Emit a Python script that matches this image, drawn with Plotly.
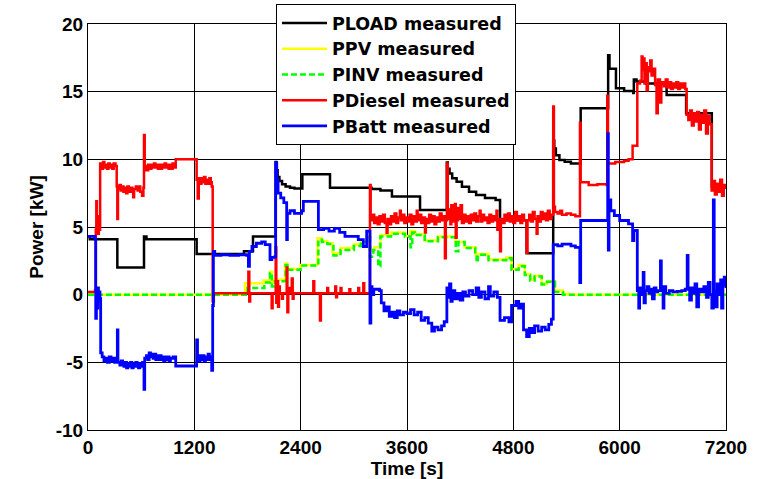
import plotly.graph_objects as go

# ---- measured power traces, (time [s], power [kW]) sample pairs ----
PLOAD = [(0, 4.3), (20, 4.1), (331, 2.0), (632, 4.3), (660, 4.1), (1226, 3.0), (1760, 3.2),
         (1862, 4.3), (2110, 4.3), (2118, 9.8), (2125, 9.2), (2140, 8.7), (2160, 8.4), (2190, 8.15),
         (2230, 8.0), (2280, 7.9), (2330, 7.85), (2419, 8.9), (2731, 7.9), (3200, 7.8), (3300, 7.7),
         (3430, 7.25), (3747, 6.26), (4050, 9.76), (4060, 9.3), (4080, 8.96), (4110, 8.6),
         (4160, 8.35), (4220, 7.98), (4300, 7.6), (4380, 7.37), (4480, 7.14), (4600, 7.0),
         (4650, 5.5), (4950, 3.06), (5250, 11.4), (5262, 10.8), (5280, 10.3), (5320, 9.95),
         (5380, 9.83), (5450, 9.7), (5560, 13.77), (5870, 17.7), (5885, 16.7), (5958, 15.25),
         (6050, 15.05), (6154, 14.9), (6160, 15.9), (6190, 15.75), (6300, 15.6), (6530, 14.76),
         (6750, 13.4), (7040, 8.0), (7200, 8.0)]

PPV = [(0, 0), (1772, 0.84), (1980, 1.05), (2054, 1.7), (2075, 0.9), (2100, 1.1), (2223, 2.3),
       (2250, 1.9), (2400, 2.2), (2590, 4.17), (2640, 3.95), (2700, 3.8), (2760, 3.06), (2850, 3.45),
       (3000, 3.7), (3080, 3.95), (3145, 4.3), (3182, 3.3), (3230, 3.5), (3300, 4.4), (3420, 4.6),
       (3577, 4.34), (3640, 4.7), (3690, 4.46), (3800, 4.0), (3950, 4.3), (4150, 3.9), (4250, 3.5),
       (4370, 3.0), (4520, 2.6), (4720, 2.75), (4780, 1.9), (4860, 2.2), (4930, 1.5), (4990, 1.1),
       (5040, 1.4), (5120, 0.8), (5180, 1.0), (5270, 0.3), (5360, 0.05), (5420, 0), (7200, 0)]

PINV = [(0, 0), (1800, 0.5), (1990, 0.9), (2054, 1.6), (2075, 0.6), (2110, 1.0), (2230, 2.2),
        (2250, 1.85), (2400, 2.15), (2600, 4.06), (2640, 3.9), (2700, 3.75), (2770, 2.9), (2850, 3.3),
        (3000, 3.6), (3080, 3.9), (3150, 4.2), (3182, 2.8), (3220, 3.3), (3276, 2.1), (3300, 4.3),
        (3420, 4.5), (3577, 4.3), (3640, 3.5), (3660, 4.6), (3690, 4.4), (3800, 3.95), (3950, 4.25),
        (4150, 3.2), (4180, 3.9), (4250, 3.45), (4370, 2.95), (4385, 2.4), (4400, 2.95), (4520, 2.55),
        (4720, 2.7), (4780, 1.85), (4860, 2.1), (4930, 1.45), (4990, 1.05), (5040, 1.35), (5120, 0.75),
        (5180, 0.95), (5270, 0.2), (5360, 0), (7200, 0)]

PDIESEL = [(0, 0.2), (79, 0.3), (88, 4.8), (94, 6.9), (100, 4.6), (108, 5.8), (115, 4.5), (122, 5.5),
           (130, 4.8), (137, 9.7), (150, 9.3), (170, 9.8), (185, 9.4), (200, 9.6), (215, 9.3),
           (230, 9.7), (245, 9.4), (260, 9.6), (275, 9.3), (290, 9.7), (310, 9.5), (324, 8.0),
           (331, 5.6), (338, 7.8), (355, 8.1), (370, 7.7), (385, 8.0), (400, 7.6), (415, 7.9),
           (430, 7.5), (445, 8.0), (460, 7.6), (480, 7.9), (500, 7.6), (510, 7.2), (520, 7.8),
           (540, 8.0), (560, 7.7), (575, 8.0), (590, 7.6), (610, 7.3), (625, 7.9), (632, 11.8),
           (640, 9.5), (660, 9.2), (680, 9.6), (700, 9.3), (715, 9.6), (730, 9.4), (745, 9.7),
           (760, 9.4), (775, 9.6), (790, 9.3), (805, 9.6), (820, 9.3), (835, 9.6), (850, 9.4),
           (865, 9.7), (880, 9.4), (895, 9.6), (910, 9.3), (925, 9.6), (940, 9.3), (955, 9.7),
           (970, 9.4), (990, 10.0), (1215, 10.0), (1226, 8.5), (1238, 7.1), (1250, 8.6), (1265, 8.2),
           (1280, 8.6), (1295, 8.3), (1310, 8.7), (1325, 8.2), (1340, 8.5), (1355, 8.2), (1370, 8.6),
           (1385, 8.3), (1396, 8.0), (1407, -0.5), (1420, 0.1), (1810, 1.7), (1820, -0.5), (1830, 0.1),
           (2073, -1.0), (2083, 0.1), (2118, 3.5), (2125, -0.6), (2135, 1.0), (2145, -0.9), (2155, 0.6),
           (2165, 0.1), (2190, -0.3), (2200, 0.1), (2242, 2.0), (2250, -1.3), (2260, 0.5), (2280, 0.1),
           (2300, 1.2), (2310, -0.3), (2320, 0.1), (2543, 1.0), (2553, 0.1), (2618, -1.9), (2628, 0.1),
           (2700, 0.5), (2710, 0.1), (2790, 0.6), (2800, -0.2), (2810, 0.1), (2850, 0.5), (2860, 0.1),
           (2950, 0.4), (2960, 0.1), (3050, 0.5), (3060, 0.1), (3107, 0.85), (3117, 0.1),
           (3182, 8.1), (3190, 5.5), (3210, 5.9), (3230, 5.3), (3250, 5.7), (3270, 5.2), (3290, 5.8),
           (3310, 5.4), (3330, 5.9), (3350, 5.3), (3370, 4.55), (3380, 5.6), (3400, 5.2), (3420, 5.8),
           (3440, 5.4), (3460, 6.0), (3480, 5.3), (3500, 5.7), (3520, 6.2), (3530, 5.5), (3550, 5.9),
           (3570, 5.3), (3590, 5.7), (3610, 5.4), (3630, 5.9), (3650, 5.2), (3670, 5.8), (3690, 5.4),
           (3710, 6.2), (3720, 5.5), (3740, 5.9), (3760, 5.3), (3780, 5.7), (3803, 4.6), (3813, 5.6),
           (3830, 5.3), (3850, 5.9), (3870, 5.4), (3890, 5.8), (3910, 5.2), (3930, 5.7), (3950, 5.4),
           (3970, 6.0), (3990, 5.5), (4010, 5.8), (4028, 2.7), (4038, 5.5), (4050, 9.7), (4060, 5.6),
           (4075, 6.3), (4090, 5.2), (4100, 6.6), (4115, 5.4), (4130, 6.1), (4141, 6.7), (4150, 4.2),
           (4160, 5.5), (4175, 6.4), (4190, 5.6), (4205, 6.6), (4220, 5.3), (4240, 5.9), (4260, 5.4),
           (4280, 5.8), (4300, 5.3), (4320, 5.9), (4340, 5.5), (4360, 6.0), (4380, 5.4), (4400, 5.8),
           (4420, 6.2), (4430, 5.4), (4450, 5.9), (4470, 5.5), (4490, 5.7), (4510, 5.3), (4530, 5.9),
           (4550, 5.4), (4570, 5.8), (4590, 5.5), (4610, 6.2), (4620, 4.8), (4635, 5.6), (4650, 3.2),
           (4660, 5.6), (4680, 5.3), (4700, 5.9), (4720, 5.5), (4740, 6.0), (4760, 5.4), (4780, 5.8),
           (4800, 5.3), (4820, 6.1), (4840, 5.5), (4860, 5.8), (4880, 5.3), (4900, 5.9), (4920, 5.5),
           (4950, 3.1), (4960, 5.5), (4980, 5.9), (5000, 5.4), (5020, 6.1), (5040, 5.6), (5063, 4.5),
           (5073, 5.8), (5090, 5.4), (5110, 6.1), (5130, 5.6), (5150, 6.0), (5170, 5.5), (5190, 6.2),
           (5210, 5.6), (5230, 5.9), (5250, 13.9), (5258, 6.5), (5270, 6.1), (5300, 6.0), (5330, 6.2),
           (5350, 5.9), (5400, 6.0), (5450, 5.9), (5500, 5.8), (5552, 12.7), (5560, 8.3), (5650, 8.1),
           (5750, 8.15), (5853, 8.1), (5860, 14.7), (5868, 9.7), (5950, 9.8), (6050, 9.9), (6100, 10.0),
           (6146, 11.0), (6199, 15.6), (6230, 15.8), (6248, 17.6), (6258, 16.6), (6268, 17.45),
           (6280, 15.6), (6292, 17.1), (6305, 15.1), (6318, 16.8), (6330, 16.5), (6345, 17.3),
           (6360, 16.2), (6380, 16.7), (6400, 15.5), (6416, 13.4), (6430, 15.9), (6455, 14.2),
           (6470, 15.7), (6500, 15.4), (6520, 15.9), (6540, 15.3), (6560, 15.7), (6580, 15.2),
           (6600, 15.6), (6620, 15.3), (6640, 15.7), (6660, 15.2), (6680, 15.6), (6700, 15.3),
           (6720, 15.6), (6740, 15.2), (6756, 13.3), (6775, 12.9), (6795, 13.6), (6815, 12.5),
           (6835, 13.4), (6855, 12.8), (6875, 13.5), (6895, 12.2), (6915, 13.3), (6935, 12.7),
           (6955, 13.6), (6975, 11.9), (6995, 13.2), (7015, 12.6), (7038, 7.7), (7055, 8.4),
           (7075, 7.4), (7095, 8.2), (7115, 7.6), (7135, 8.5), (7155, 7.3), (7175, 8.1), (7200, 7.8)]

PBATT = [(0, 4.3), (79, 4.1), (87, -1.75), (95, 0.1), (103, -1.0), (110, 0.5), (118, -0.5),
         (126, 0.2), (135, -0.3), (143, -4.3), (160, -4.6), (180, -4.9), (200, -4.7), (220, -5.0),
         (240, -4.6), (260, -4.9), (280, -4.7), (300, -5.0), (323, -4.7), (331, -2.6), (338, -5.0),
         (360, -5.2), (375, -4.9), (390, -5.1), (405, -5.3), (420, -5.0), (435, -5.4), (450, -5.1),
         (465, -5.3), (480, -5.0), (495, -5.4), (510, -5.1), (525, -5.3), (540, -5.0), (555, -5.3),
         (570, -5.4), (585, -5.1), (600, -5.3), (615, -5.0), (625, -5.3), (632, -7.0), (640, -4.7),
         (660, -4.5), (675, -4.8), (690, -4.3), (705, -4.6), (720, -4.4), (735, -4.7), (750, -4.4),
         (765, -4.8), (780, -4.5), (795, -4.8), (810, -4.5), (825, -4.8), (840, -4.6), (855, -4.9),
         (870, -4.6), (885, -4.8), (900, -4.6), (915, -4.9), (930, -4.7), (960, -4.6), (990, -5.27),
         (1215, -5.27), (1226, -3.35), (1236, -4.6), (1250, -4.9), (1265, -4.5), (1280, -4.8),
         (1295, -4.5), (1310, -4.9), (1325, -4.6), (1340, -4.8), (1355, -4.4), (1370, -4.8),
         (1385, -4.6), (1396, -5.6), (1407, -0.8), (1415, 3.2), (1430, 2.9), (1500, 2.95),
         (1600, 2.9), (1700, 2.95), (1790, 2.9), (1810, 2.1), (1822, 3.2), (1850, 3.56), (1900, 3.8),
         (1960, 3.9), (2000, 3.7), (2054, 2.6), (2075, 2.75), (2110, 2.8), (2118, 9.75), (2130, 8.5),
         (2145, 7.5), (2175, 7.15), (2210, 6.8), (2242, 4.06), (2250, 6.0), (2280, 6.2), (2330, 6.0),
         (2411, 6.2), (2430, 6.9), (2600, 4.8), (2660, 4.9), (2720, 4.7), (2780, 4.9), (2840, 4.6),
         (2900, 4.3), (3050, 4.06), (3107, 3.56), (3145, 4.7), (3182, -2.1), (3192, 0.6), (3205, 0.0),
         (3225, 0.4), (3290, 0.3), (3310, -0.6), (3340, -1.2), (3370, -0.9), (3400, -1.6),
         (3430, -1.3), (3460, -1.7), (3490, -1.2), (3520, -1.5), (3560, -1.3), (3600, -1.4),
         (3640, -1.1), (3680, -1.5), (3720, -1.3), (3760, -1.9), (3800, -1.7), (3840, -2.1),
         (3880, -2.7), (3910, -2.4), (3950, -2.6), (3990, -2.3), (4020, -2.0), (4050, 0.5),
         (4060, -0.2), (4080, 0.8), (4095, -0.5), (4110, 0.3), (4140, -0.3), (4170, 0.1), (4200, -0.4),
         (4230, 0.2), (4260, -0.1), (4300, 0.3), (4340, 0.0), (4380, 0.5), (4410, -0.2), (4440, 0.2),
         (4480, -0.3), (4520, 0.6), (4540, -0.1), (4580, 0.2), (4620, -0.2), (4650, -1.9),
         (4700, -1.7), (4750, -2.0), (4780, -0.8), (4830, -0.5), (4860, -1.0), (4890, -0.7),
         (4915, -2.6), (4950, -3.1), (4980, -2.5), (5010, -2.8), (5040, -2.3), (5080, -2.7),
         (5120, -2.4), (5160, -2.6), (5200, -2.2), (5230, -1.8), (5250, 3.7), (5300, 3.6),
         (5350, 3.74), (5450, 3.6), (5500, 3.5), (5550, 0.9), (5560, 5.48), (5853, 5.48),
         (5865, 11.9), (5872, 3.3), (5880, 7.0), (5900, 6.2), (5940, 5.85), (6000, 5.48), (6100, 5.23),
         (6146, 4.0), (6160, 4.74), (6199, 0.3), (6215, -1.0), (6225, 0.5), (6240, 0.0), (6265, 1.65),
         (6275, -0.6), (6290, 0.3), (6310, 0.6), (6330, 0.1), (6350, 0.4), (6370, -0.3), (6390, 0.5),
         (6410, 0.2), (6430, 0.3), (6460, 2.5), (6470, 0.3), (6490, -1.0), (6500, 0.6), (6520, 0.1),
         (6560, 0.3), (6600, 0.2), (6650, 0.25), (6700, 0.3), (6740, 0.4), (6762, 2.9), (6772, 0.5),
         (6790, -0.4), (6810, 0.5), (6830, 0.1), (6850, 0.8), (6870, -0.9), (6890, 0.4), (6920, 0.2),
         (6950, 0.6), (6980, -0.2), (7000, 0.9), (7020, 0.0), (7040, -1.0), (7057, 7.0), (7067, 0.3),
         (7085, -0.9), (7100, 0.8), (7120, 0.0), (7140, 1.1), (7150, -1.0), (7165, 0.7), (7180, 1.3),
         (7200, 0.5)]

SERIES = [
    ("PLOAD measured", PLOAD, "#000000", "solid", 2.5),
    ("PPV measured", PPV, "#ffff00", "solid", 2.5),
    ("PINV measured", PINV, "#00ff00", "6px,3px", 2.5),
    ("PDiesel measured", PDIESEL, "#ff0000", "solid", 2.5),
    ("PBatt measured", PBATT, "#0000ff", "solid", 2.8),
]

X_TICKS = [0, 1200, 2400, 3600, 4800, 6000, 7200]
Y_TICKS = [-10, -5, 0, 5, 10, 15, 20]

fig = go.Figure()
for name, pts, color, dash, width in SERIES:
    t = [p[0] for p in pts]
    kw = [p[1] for p in pts]
    fig.add_trace(go.Scatter(
        x=t, y=kw, name=name, mode="lines",
        line=dict(color=color, width=width, dash=dash, shape="hv"),
    ))

axis_font = dict(family="Liberation Sans, Arial, sans-serif", size=19, color="#000000", weight="bold")

fig.update_layout(
    width=771, height=479,
    margin=dict(l=88, r=45, t=24, b=49, autoexpand=False),
    paper_bgcolor="#ffffff", plot_bgcolor="#ffffff",
    showlegend=True,
    legend=dict(
        x=(276 - 88) / 638, y=(430 - 4) / 406, xanchor="left", yanchor="top",
        bgcolor="#ffffff", bordercolor="#000000", borderwidth=1,
        font=dict(family="DejaVu Sans", size=17.5, color="#000000", weight="bold"),
        itemwidth=45, tracegroupgap=0,
    ),
    xaxis=dict(
        range=[0, 7200], tickvals=X_TICKS, ticktext=[str(v) for v in X_TICKS],
        showgrid=True, gridcolor="#000000", gridwidth=1,
        showline=True, linecolor="#000000", linewidth=1, mirror=True,
        zeroline=False, ticks="", tickfont=axis_font, automargin=False,
        title=dict(text="Time [s]", font=axis_font, standoff=2),
    ),
    yaxis=dict(
        range=[-10, 20], tickvals=Y_TICKS, ticktext=[str(v) for v in Y_TICKS],
        showgrid=True, gridcolor="#000000", gridwidth=1,
        showline=True, linecolor="#000000", linewidth=1, mirror=True,
        zeroline=False, ticks="", tickfont=axis_font, automargin=False,
        title=dict(text="Power [kW]", font=axis_font, standoff=7),
    ),
)

fig.write_html("out.html")
